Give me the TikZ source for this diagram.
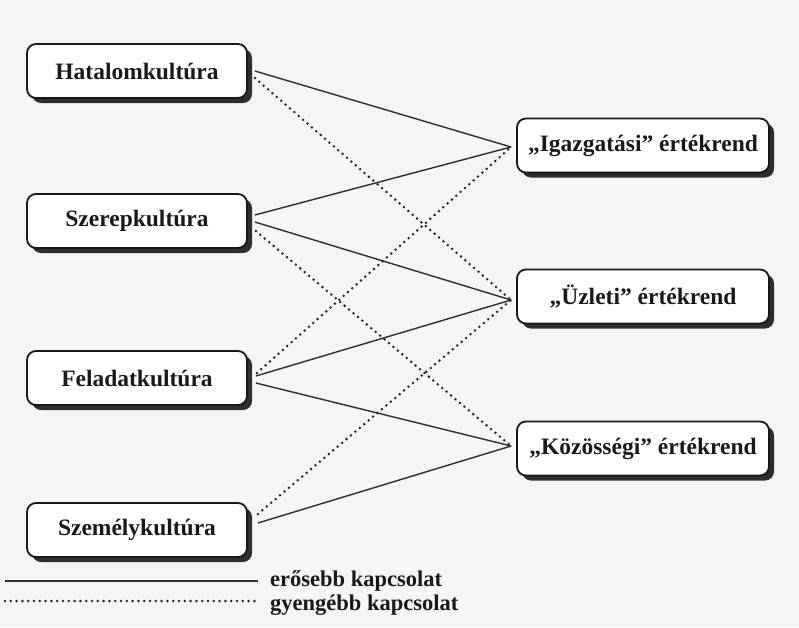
\documentclass[tikz,border=0pt]{standalone}
\usepackage{fontspec}
\setmainfont{Liberation Serif}
\usetikzlibrary{calc,shadows}
\begin{document}
\begin{tikzpicture}[x=1pt,y=-1pt,
  box/.style={draw=black!90, line width=1.8pt, rounded corners=9pt, fill=white,
    minimum height=54pt, inner sep=0pt, text=black!90,
    font=\fontsize{23.5}{27}\selectfont\bfseries,
    drop shadow={shadow xshift=5pt, shadow yshift=-5pt, fill=black!82, opacity=1}},
  leftbox/.style={box, minimum width=220pt},
  rightbox/.style={box, minimum width=252pt},
  strong/.style={draw=black!82, line width=1.4pt},
  weak/.style={draw=black!85, line width=2.8pt, line cap=round, dash pattern=on 0pt off 5.8pt},
  legendtext/.style={anchor=base west, inner sep=0pt, text=black!90,
    font=\fontsize{22.5}{26}\selectfont\bfseries}
]
% paper
\fill[black!4] (0,0) rectangle (799,627);
\useasboundingbox (0,0) rectangle (799,627);

% organisational cultures
\node[leftbox] (hat) at (137,71)  {Hatalomkultúra};
\node[leftbox] (sze) at (137,221) {Szerepkultúra};
\node[leftbox] (fel) at (137,378) {Feladatkultúra};
\node[leftbox] (sem) at (137,530) {Személykultúra};

% value systems
\node[rightbox] (iga) at (643,145.5) {„Igazgatási” értékrend};
\node[rightbox] (uzl) at (643,296.5) {„Üzleti” értékrend};
\node[rightbox] (koz) at (643,448.5) {„Közösségi” értékrend};

% ports on the right side of the culture boxes
\coordinate (hatA) at ($(hat.east)+(7,0)$);
\coordinate (hatB) at ($(hat.east)+(7,7)$);
\coordinate (szeA) at ($(sze.east)+(7,-6)$);
\coordinate (szeB) at ($(sze.east)+(7,1)$);
\coordinate (szeC) at ($(sze.east)+(8,10)$);
\coordinate (felA) at ($(fel.east)+(9,-5)$);
\coordinate (felB) at ($(fel.east)+(8,-2)$);
\coordinate (felC) at ($(fel.east)+(8,5)$);
\coordinate (semA) at ($(sem.east)+(10,-16)$);
\coordinate (semB) at ($(sem.east)+(10,-7)$);

% ports on the left side of the value boxes
\coordinate (igaP) at ($(iga.west)+(-5,1.5)$);
\coordinate (uzlP) at ($(uzl.west)+(-5,3.5)$);
\coordinate (kozP) at ($(koz.west)+(-5,-2.5)$);

% stronger links
\draw[strong] (hatA) -- (igaP);
\draw[strong] (szeA) -- (igaP);
\draw[strong] (szeB) -- (uzlP);
\draw[strong] (felB) -- (uzlP);
\draw[strong] (felC) -- (kozP);
\draw[strong] (semB) -- (kozP);

% weaker links
\draw[weak] (hatB) -- (uzlP);
\draw[weak] (szeC) -- (kozP);
\draw[weak] (felA) -- (igaP);
\draw[weak] (semA) -- (uzlP);

% legend
\node[legendtext] (lstrong) at (270,586) {erősebb kapcsolat};
\node[legendtext] (lweak)   at (270,610) {gyengébb kapcsolat};
\coordinate (lsA) at (5,581);
\coordinate (lwA) at (5,601);
\draw[strong] (lsA) -- ($(lstrong.base west)+(-12,-5)$);
\draw[weak]   (lwA) -- ($(lweak.base west)+(-12,-9)$);
\end{tikzpicture}
\end{document}
